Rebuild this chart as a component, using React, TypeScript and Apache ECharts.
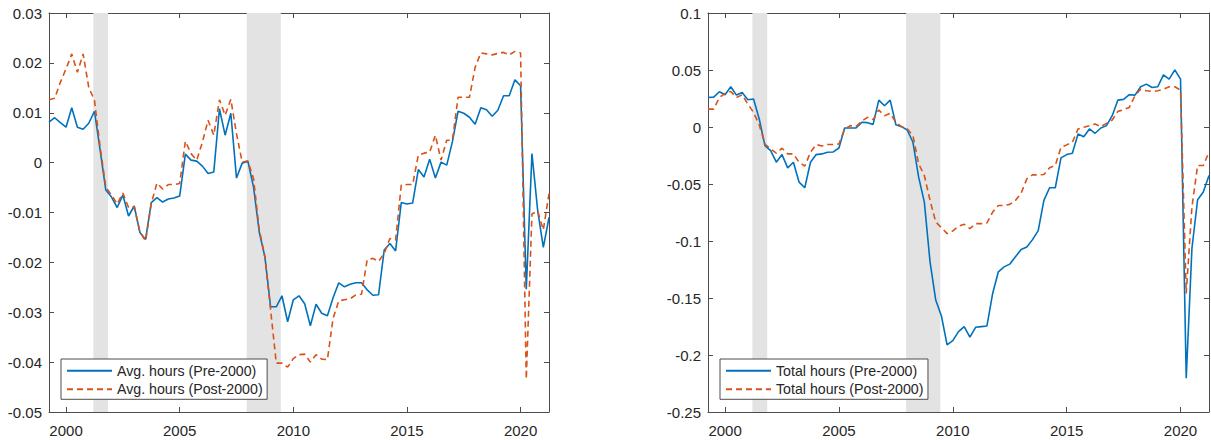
import React, { useEffect, useRef } from "react";
import * as echarts from "echarts";

// Quarterly observations, 1999Q2 .. 2021Q2 (time stamps in fractional years)
const START_YEAR = 1999.25;
const STEP = 0.25;

const avgHoursPre = [
  0.0081, 0.009, 0.008,
  0.0071, 0.011, 0.0071, 0.0067,
  0.0079, 0.0103, 0.0025, -0.0055,
  -0.0069, -0.009, -0.0065, -0.0107,
  -0.0087, -0.014, -0.0154, -0.008,
  -0.007, -0.0079, -0.0073, -0.0071,
  -0.0067, 0.0017, 0.0005, 0.0003,
  -0.0007, -0.0022, -0.0019, 0.0108,
  0.0055, 0.0099, -0.0031, -0.0001,
  0.0003, -0.0049, -0.0139, -0.0189,
  -0.0289, -0.0289, -0.0267, -0.0319,
  -0.0275, -0.0267, -0.0283, -0.0327,
  -0.0284, -0.0302, -0.0307, -0.0271,
  -0.0241, -0.0249, -0.0244, -0.0241,
  -0.0241, -0.0255, -0.0266, -0.0265,
  -0.0175, -0.0162, -0.0177, -0.008,
  -0.0083, -0.0081, -0.0014, -0.0029,
  0.0007, -0.0031, 0.0001, -0.0005,
  0.0042, 0.0103, 0.0099, 0.0091,
  0.0077, 0.011, 0.0106, 0.0093,
  0.0105, 0.0134, 0.0134, 0.0166,
  0.0154, -0.0254, 0.0018, -0.0095,
  -0.017, -0.011,
];

const avgHoursPost = [
  0.0126, 0.0129, 0.0161,
  0.0188, 0.0218, 0.0181, 0.0218,
  0.0151, 0.0125, 0.0031, -0.0049,
  -0.0065, -0.0083, -0.0061, -0.009,
  -0.0089, -0.0139, -0.0157, -0.0082,
  -0.0041, -0.0053, -0.0044, -0.0044,
  -0.0042, 0.0043, 0.0018, 0.0005,
  0.0041, 0.0085, 0.0055, 0.0126,
  0.0095, 0.0127, 0.0058, 0.0001,
  0.0003, -0.0032, -0.0134, -0.0189,
  -0.0295, -0.0402, -0.0402, -0.041,
  -0.0393, -0.0385, -0.0384, -0.04,
  -0.0385, -0.0394, -0.0395, -0.0312,
  -0.0277, -0.0275, -0.0273, -0.0265,
  -0.0264, -0.0195, -0.0192, -0.0198,
  -0.0182, -0.0152, -0.0155, -0.0045,
  -0.0044, -0.0044, 0.0015, 0.0019,
  0.0021, 0.0055, 0.0005, 0.0045,
  0.0045, 0.0131, 0.0131, 0.0131,
  0.0191, 0.022, 0.0218, 0.0216,
  0.0219, 0.0221, 0.0216, 0.0223,
  0.022, -0.0434, -0.0103, -0.0097,
  -0.0135, -0.0062,
];

const totalHoursPre = [
  0.0259, 0.0262, 0.0309,
  0.0283, 0.0353, 0.028, 0.0303,
  0.0239, 0.0245, 0.007, -0.0163,
  -0.0207, -0.0309, -0.0242, -0.0358,
  -0.0309, -0.0484, -0.0533, -0.0309,
  -0.0242, -0.0236, -0.0221, -0.0219,
  -0.0184, -0.0009, -0.0009, -0.0009,
  0.0041, 0.0038, 0.0023, 0.0236,
  0.0186, 0.0236, 0.002, 0.0003,
  -0.0026, -0.0134, -0.044, -0.0659,
  -0.1183, -0.1518, -0.1658, -0.1911,
  -0.1874, -0.1795, -0.1751, -0.1844,
  -0.1757, -0.1751, -0.1745, -0.146,
  -0.127, -0.1227, -0.1203, -0.1139,
  -0.1075, -0.1052, -0.0988, -0.0909,
  -0.0644, -0.0533, -0.0533, -0.0271,
  -0.0242, -0.023, -0.0061, -0.0085,
  -0.0017, -0.0055, -0.0009, 0.0012,
  0.0099, 0.0236, 0.0242, 0.0283,
  0.028, 0.0353, 0.0376, 0.0347,
  0.0353, 0.0457, 0.042, 0.0501,
  0.042, -0.2203, -0.1066, -0.0638,
  -0.0571, -0.0425,
];

const totalHoursPost = [
  0.0157, 0.0157, 0.0259,
  0.0294, 0.0312, 0.0259, 0.0283,
  0.0201, 0.0128, 0.002, -0.0149,
  -0.0192, -0.023, -0.0186, -0.0236,
  -0.0236, -0.0309, -0.0344, -0.0221,
  -0.0154, -0.0166, -0.0154, -0.0154,
  -0.0149, -0.0017, 0.0012, 0.0003,
  0.005, 0.0085, 0.0065, 0.0149,
  0.0099, 0.0119, 0.0041, 0.0003,
  -0.0017, -0.0076, -0.0323, -0.0425,
  -0.0644, -0.0833, -0.0883, -0.0935,
  -0.0912, -0.0871, -0.0854, -0.0892,
  -0.0848, -0.0848, -0.0842, -0.0746,
  -0.0688, -0.0688, -0.0679, -0.0644,
  -0.058, -0.0455, -0.042, -0.042,
  -0.0417, -0.0358, -0.0338, -0.0178,
  -0.0157, -0.0134, -0.0017, -0.0003,
  0.0012, 0.0026, 0.0003, 0.0032,
  0.0061, 0.0137, 0.0152, 0.0172,
  0.0274, 0.0332, 0.0318, 0.0312,
  0.0318, 0.0332, 0.0353, 0.0353,
  0.0323, -0.146, -0.0702, -0.0338,
  -0.0338, -0.0221,
];

// NBER recession periods (fractional years)
const recessions: [number, number][] = [
  [2001.2, 2001.85],
  [2007.95, 2009.45],
];

const yearTicks = [2000, 2005, 2010, 2015, 2020];
const X_MIN = 1999.25;
const X_MAX = 2021.25;

const NAMES = {
  avgPre: "Avg. hours (Pre-2000)",
  avgPost: "Avg. hours (Post-2000)",
  totPre: "Total hours (Pre-2000)",
  totPost: "Total hours (Post-2000)",
};

const BLUE = "#0072BD";
const ORANGE = "#D95319";
const AXIS = "#4d4d4d";
const TEXT = "#262626";
const FONT = "'Liberation Sans', Arial, Helvetica, sans-serif";

const toPoints = (vals: number[]) =>
  vals.map((v, i) => [START_YEAR + i * STEP, v]);

function xAxes(gridIndex: number) {
  const base = {
    type: "value" as const,
    gridIndex,
    min: X_MIN,
    max: X_MAX,
    splitLine: { show: false },
    axisLine: { show: true, onZero: false, lineStyle: { color: AXIS, width: 1 } },
    axisTick: {
      show: true,
      inside: true,
      length: 5,
      customValues: yearTicks,
      lineStyle: { color: AXIS },
    },
  };
  return [
    {
      ...base,
      position: "bottom",
      axisLabel: {
        show: true,
        customValues: yearTicks,
        formatter: (v: number) => String(Math.round(v)),
        margin: 11,
        color: TEXT,
        fontSize: 15,
        fontFamily: FONT,
      },
    },
    { ...base, position: "top", axisLabel: { show: false } },
  ];
}

function yAxes(gridIndex: number, min: number, max: number, interval: number) {
  const base = {
    type: "value" as const,
    gridIndex,
    min,
    max,
    interval,
    splitLine: { show: false },
    axisLine: { show: true, onZero: false, lineStyle: { color: AXIS, width: 1 } },
    axisTick: { show: true, inside: true, length: 5, lineStyle: { color: AXIS } },
  };
  return [
    {
      ...base,
      position: "left",
      axisLabel: {
        show: true,
        margin: 7,
        color: TEXT,
        fontSize: 15,
        fontFamily: FONT,
      },
    },
    { ...base, position: "right", axisLabel: { show: false } },
  ];
}

function panelSeries(
  xIndex: number,
  yIndex: number,
  pre: number[],
  post: number[],
  preName: string,
  postName: string
) {
  return [
    {
      // recession shading, kept beneath the lines
      type: "line",
      name: "shade" + xIndex,
      xAxisIndex: xIndex,
      yAxisIndex: yIndex,
      data: toPoints(pre),
      symbol: "none",
      lineStyle: { opacity: 0, width: 0 },
      z: 1,
      silent: true,
      markArea: {
        silent: true,
        itemStyle: { color: "#e3e3e3" },
        data: recessions.map(([a, b]) => [{ xAxis: a }, { xAxis: b }]),
      },
    },
    {
      type: "line",
      name: preName,
      xAxisIndex: xIndex,
      yAxisIndex: yIndex,
      data: toPoints(pre),
      symbol: "none",
      lineStyle: { color: BLUE, width: 1.6 },
      itemStyle: { color: BLUE },
      z: 3,
    },
    {
      type: "line",
      name: postName,
      xAxisIndex: xIndex,
      yAxisIndex: yIndex,
      data: toPoints(post),
      symbol: "none",
      lineStyle: { color: ORANGE, width: 1.6, type: [6, 4] },
      itemStyle: { color: ORANGE },
      z: 4,
    },
  ];
}

function legend(left: number, names: string[]) {
  return {
    data: names,
    orient: "vertical",
    left,
    top: 359,
    itemWidth: 45,
    itemHeight: 14,
    itemGap: 3.6,
    padding: [4.2, 4.5, 2.5, 5],
    backgroundColor: "#ffffff",
    borderColor: AXIS,
    borderWidth: 1,
    borderRadius: 0,
    selectedMode: false,
    itemStyle: { opacity: 0 },
    lineStyle: { opacity: 1 },
    textStyle: { color: TEXT, fontSize: 14.2, lineHeight: 15, fontFamily: FONT },
  };
}

export default function App() {
  const ref = useRef<HTMLDivElement>(null);

  useEffect(() => {
    if (!ref.current) return;
    const chart = echarts.init(ref.current, undefined, { renderer: "svg" });
    chart.setOption({
      animation: false,
      backgroundColor: "#ffffff",
      grid: [
        { left: 49, top: 13, right: 662, bottom: 28, containLabel: false },
        { left: 708, top: 13, right: 2, bottom: 28, containLabel: false },
      ],
      xAxis: [...xAxes(0), ...xAxes(1)],
      yAxis: [...yAxes(0, -0.05, 0.03, 0.01), ...yAxes(1, -0.25, 0.1, 0.05)],
      legend: [
        legend(61, [NAMES.avgPre, NAMES.avgPost]),
        legend(720, [NAMES.totPre, NAMES.totPost]),
      ],
      series: [
        ...panelSeries(0, 0, avgHoursPre, avgHoursPost, NAMES.avgPre, NAMES.avgPost),
        ...panelSeries(2, 2, totalHoursPre, totalHoursPost, NAMES.totPre, NAMES.totPost),
      ],
    });
    return () => chart.dispose();
  }, []);

  return (
    <div
      ref={ref}
      style={{ position: "absolute", left: 0, top: 0, width: 1211, height: 440 }}
    />
  );
}
